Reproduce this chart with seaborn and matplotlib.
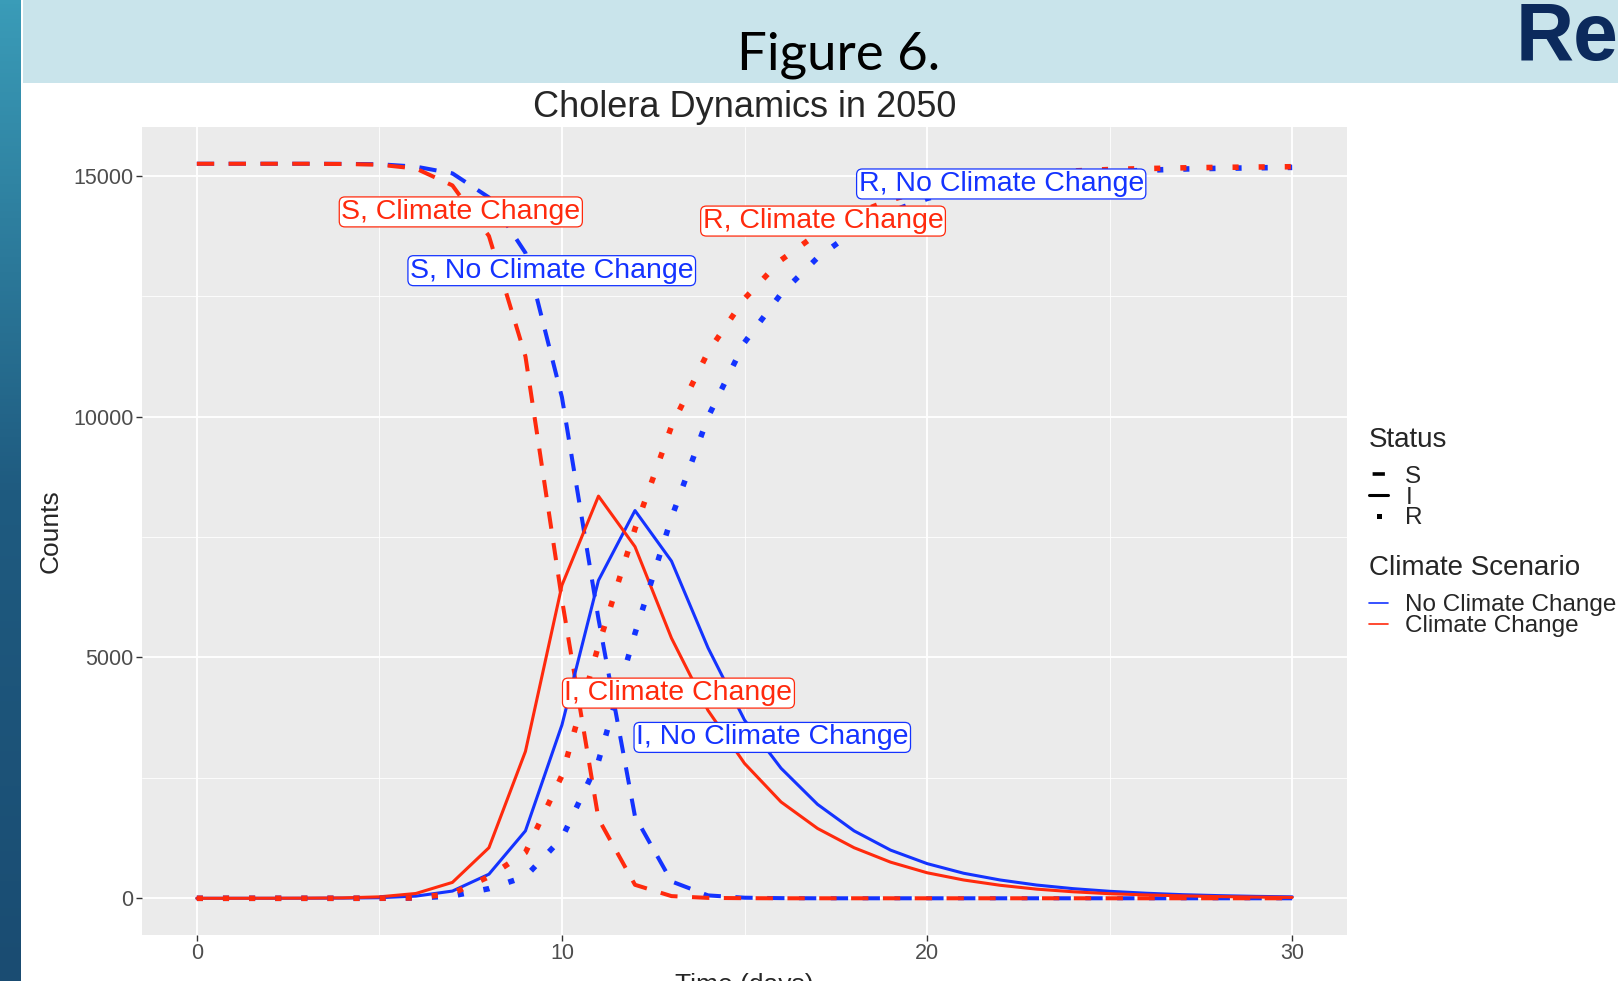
import numpy as np
import pandas as pd
import matplotlib.pyplot as plt
import seaborn as sns
from matplotlib.lines import Line2D
from matplotlib.patches import Rectangle
from matplotlib.ticker import MultipleLocator

# daily values
days = list(range(31))

s_no_cc = [15250, 15250, 15250, 15250, 15248, 15240, 15190, 15050, 14550, 13400,
           10400, 5800, 1700, 350, 60, 12, 3, 0, 0, 0,
           0, 0, 0, 0, 0, 0, 0, 0, 0, 0, 0]
s_cc = [15250, 15250, 15250, 15250, 15245, 15230, 15150, 14800, 13750, 11250,
        6200, 1650, 280, 45, 8, 2, 0, 0, 0, 0,
        0, 0, 0, 0, 0, 0, 0, 0, 0, 0, 0]
i_no_cc = [0, 0, 0, 1, 4, 12, 45, 150, 500, 1400,
           3600, 6600, 8050, 7000, 5200, 3700, 2700, 1950, 1400, 1000,
           720, 520, 380, 275, 200, 145, 105, 75, 55, 40, 30]
i_cc = [0, 0, 1, 3, 8, 30, 100, 330, 1050, 3050,
        6500, 8350, 7300, 5400, 3900, 2800, 2000, 1450, 1050, 750,
        530, 380, 270, 190, 135, 95, 70, 50, 35, 25, 18]
r_no_cc = [0, 0, 0, 0, 0, 0, 5, 50, 200, 450,
           1250, 2850, 5500, 7900, 9990, 11540, 12550, 13300, 13850, 14250,
           14530, 14730, 14870, 14960, 15030, 15080, 15115, 15140, 15155, 15165, 15175]
r_cc = [0, 0, 0, 0, 0, 2, 8, 100, 450, 950,
        2550, 5250, 7670, 9800, 11340, 12450, 13250, 13800, 14200, 14500,
        14720, 14870, 14975, 15050, 15100, 15130, 15150, 15165, 15175, 15182, 15188]

scenarios = ["No Climate Change", "Climate Change"]
statuses = ["S", "I", "R"]
palette = {"No Climate Change": "#1433ff", "Climate Change": "#ff2a0d"}

series = {
    ("S", "No Climate Change"): s_no_cc, ("S", "Climate Change"): s_cc,
    ("I", "No Climate Change"): i_no_cc, ("I", "Climate Change"): i_cc,
    ("R", "No Climate Change"): r_no_cc, ("R", "Climate Change"): r_cc,
}
rows = []
for (st, sc), vals in series.items():
    for d, v in zip(days, vals):
        rows.append({"Time": d, "Counts": v, "Status": st, "Scenario": sc})
df = pd.DataFrame(rows)

# label text and anchor (x, y) in data units
labels = ["S, Climate Change", "S, No Climate Change", "R, Climate Change",
          "R, No Climate Change", "I, Climate Change", "I, No Climate Change"]
label_x = [7.23, 9.72, 17.15, 22.03, 13.19, 15.76]
label_y = [14250, 13030, 14060, 14830, 4260, 3340]
label_sc = ["Climate Change", "No Climate Change", "Climate Change",
            "No Climate Change", "Climate Change", "No Climate Change"]

sns.set_theme(style="darkgrid")
plt.rcParams["font.family"] = ["Liberation Sans", "DejaVu Sans"]
plt.rcParams["axes.facecolor"] = "#ebebeb"

fig = plt.figure(figsize=(16.18, 9.81), dpi=100)
fig.patch.set_facecolor("white")

# slide decoration
fig.patches.append(Rectangle((0.014, 0.9154), 0.986, 0.0846, transform=fig.transFigure,
                             facecolor="#c9e4eb", edgecolor="none", zorder=0))
strip = fig.add_axes([0, 0, 0.0128, 1])
grad = np.linspace(0, 1, 256).reshape(-1, 1)
strip.imshow(grad, aspect="auto", cmap=sns.blend_palette(["#3a9cb8", "#1f5b80", "#1a4c72"], as_cmap=True))
strip.axis("off")
fig.text(0.5185, 0.944, "Figure 6.", ha="center", va="center", fontsize=38,
         family="Lato", color="black")
fig.text(0.9365, 0.939, "Re", ha="left", va="baseline", fontsize=58, fontweight="bold",
         color="#0c2a5c")

ax = fig.add_axes([0.0878, 0.0469, 0.7447, 0.8236])
line_dash = {"S": (4.3, 3.6), "I": "", "R": (1.1, 3.6)}
line_w = {"S": 2.9, "I": 2.2, "R": 4.0}
for st in statuses:
    sns.lineplot(data=df[df["Status"] == st], x="Time", y="Counts", hue="Scenario",
                 style="Status", hue_order=scenarios, palette=palette,
                 dashes={st: line_dash[st]}, linewidth=line_w[st], legend=False, ax=ax)

for txt, x, y, sc in zip(labels, label_x, label_y, label_sc):
    ax.text(x, y, txt, ha="center", va="center", fontsize=20.5, color=palette[sc],
            bbox=dict(boxstyle="round,pad=0.07,rounding_size=0.2", facecolor="white",
                      edgecolor=palette[sc], linewidth=0.9), zorder=5)

ax.set_xlim(-1.5, 31.5)
ax.set_ylim(-762, 16012)
ax.xaxis.set_major_locator(MultipleLocator(10))
ax.xaxis.set_minor_locator(MultipleLocator(5))
ax.yaxis.set_major_locator(MultipleLocator(5000))
ax.yaxis.set_minor_locator(MultipleLocator(2500))
ax.grid(which="major", color="white", linewidth=1.3)
ax.grid(which="minor", color="white", linewidth=0.6)
for sp in ax.spines.values():
    sp.set_visible(False)
ax.tick_params(axis="both", which="major", length=4, width=1, color="#333333",
               labelsize=15.5, labelcolor="#4d4d4d", pad=2, bottom=True, left=True)
ax.tick_params(which="minor", length=0)
ax.set_xlabel("Time (days)", fontsize=19, labelpad=6)
ax.set_ylabel("Counts", fontsize=19, labelpad=8)
ax.set_title("Cholera Dynamics in 2050", fontsize=26, pad=7)

# legends
fig.text(0.846, 0.5519, "Status", fontsize=20, ha="left", va="center")
status_handles = [
    Line2D([], [], color="black", linewidth=2.6, linestyle=(5.4, (3.4, 3.0))),
    Line2D([], [], color="black", linewidth=2.2),
    Line2D([], [], color="black", linewidth=3.6, linestyle=(4.5, (1.0, 5.0))),
]
fig.legend(status_handles, statuses, loc="upper left", bbox_to_anchor=(0.846, 0.525),
           frameon=False, fontsize=17.5, handlelength=0.8, labelspacing=-0.06,
           handletextpad=0.7, borderpad=0, borderaxespad=0)
fig.text(0.846, 0.4215, "Climate Scenario", fontsize=20, ha="left", va="center")
scen_handles = [Line2D([], [], color=palette[s], linewidth=1.2) for s in scenarios]
fig.legend(scen_handles, scenarios, loc="upper left", bbox_to_anchor=(0.846, 0.394),
           frameon=False, fontsize=17.5, handlelength=0.8, labelspacing=-0.06,
           handletextpad=0.7, borderpad=0, borderaxespad=0)

fig.savefig("out.png", dpi=100)
